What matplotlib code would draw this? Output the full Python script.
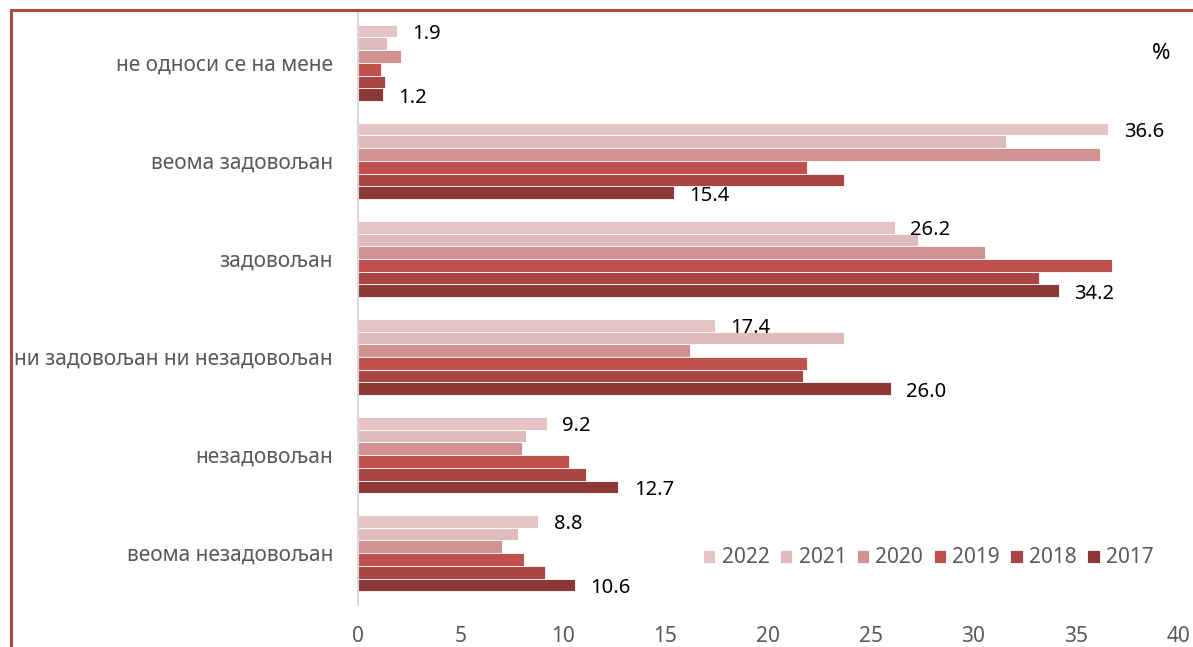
import numpy as np
import matplotlib
matplotlib.use("Agg")
import matplotlib.pyplot as plt
from matplotlib.patches import Rectangle

# Категорије (одозго надоле) и године
kategorije = ["не односи се на мене", "веома задовољан", "задовољан",
              "ни задовољан ни незадовољан", "незадовољан", "веома незадовољан"]
godine = ["2022", "2021", "2020", "2019", "2018", "2017"]

v2022 = [1.9, 36.6, 26.2, 17.4, 9.2, 8.8]
v2021 = [1.4, 31.6, 27.3, 23.7, 8.2, 7.8]
v2020 = [2.1, 36.2, 30.6, 16.2, 8.0, 7.0]
v2019 = [1.1, 21.9, 36.8, 21.9, 10.3, 8.1]
v2018 = [1.3, 23.7, 33.2, 21.7, 11.1, 9.1]
v2017 = [1.2, 15.4, 34.2, 26.0, 12.7, 10.6]

serije = [v2022, v2021, v2020, v2019, v2018, v2017]
boje = ["#E4C4C4", "#E0BBBB", "#D39292", "#C0504D", "#A94644", "#8C3836"]

plt.rcParams['font.family'] = ['Noto Sans', 'DejaVu Sans']

fig = plt.figure(figsize=(11.93, 6.47), dpi=100)
ax = fig.add_axes([0.3001, 0.0649, 0.6874, 0.9166])

y = np.arange(len(kategorije))
h = 0.13
for k, (vals, c) in enumerate(zip(serije, boje)):
    pos = y - 2.5 * h + k * h
    ax.barh(pos, vals, height=h, color=c, edgecolor="white", linewidth=0.6,
            label=godine[k])
    # натписи само за 2022 и 2017
    if k in (0, 5):
        for p, v in zip(pos, vals):
            ax.annotate(f"{v:.1f}", (v, p), xytext=(11, -2), textcoords="offset points",
                        va="center", ha="left", fontsize=14.5, color="black")

ax.set_xlim(0, 40)
ax.set_ylim(5.53, -0.52)
ax.set_xticks(np.arange(0, 41, 5))
ax.set_yticks(y)
ax.set_yticklabels(kategorije, fontsize=15, color="#595959")
ax.tick_params(axis="y", length=0, pad=18)
ax.tick_params(axis="x", length=0, pad=15, labelsize=15, labelcolor="#595959")

for s in ["top", "right", "bottom"]:
    ax.spines[s].set_visible(False)
ax.spines["left"].set_color("#D9D9D9")
ax.spines["left"].set_linewidth(1.5)

leg = ax.legend(loc="lower right", bbox_to_anchor=(0.993, 0.03), ncol=6, frameon=False,
                fontsize=15, handlelength=0.6, handleheight=0.6, handletextpad=0.3,
                columnspacing=0.5)
for t in leg.get_texts():
    t.set_color("#595959")

fig.text(0.973, 0.918, "%", fontsize=16, ha="center", va="center")

# оквир графикона
fig.patches.append(Rectangle((0.0095, -0.1), 1.2, 1.085, transform=fig.transFigure,
                             fill=False, edgecolor="#A84A48", linewidth=2.2))

fig.savefig("out.png", dpi=100)
